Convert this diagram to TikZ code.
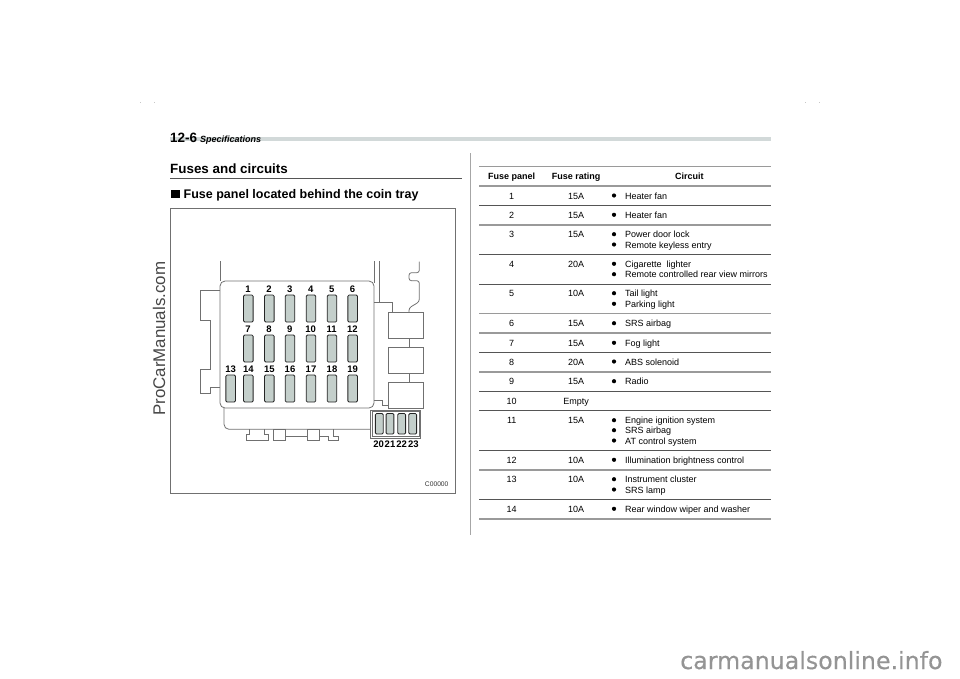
\documentclass[tikz,border=0pt]{standalone}
\usepackage{fontspec}
\setmainfont{Liberation Sans}
\newfontfamily\wmfont[FakeBold=0.35]{DejaVu Sans}
\definecolor{fusefill}{HTML}{C4CFCB}
\definecolor{barcol}{HTML}{D2D9D9}
\definecolor{rulecol}{HTML}{555555}
\definecolor{rulegrey}{HTML}{9A9A9A}
\definecolor{linecol}{HTML}{707070}
\newcommand{\fsz}[1]{\fontsize{#1}{#1}\selectfont}
\tikzset{
  outline/.style={draw=linecol,line width=0.8pt,line join=miter},
  fusebox/.style={draw=black!85,fill=fusefill,line width=0.85pt,rounded corners=1.2pt},
  fuselabel/.style={font=\fsz{9.5}\bfseries,inner sep=0pt,anchor=base},
  cell/.style={font=\fsz{9},inner sep=0pt,anchor=base,text=black},
  celll/.style={cell,anchor=base west},
  headcell/.style={cell,font=\fsz{9}\bfseries},
  tabrule/.style={draw=rulecol,line width=0.8pt},
  tabrulethick/.style={draw=rulegrey,line width=1.3pt},
  bulletdot/.style={fill=black},
}
\begin{document}
\begin{tikzpicture}[x=1pt,y=-1pt]
\useasboundingbox (0,0) rectangle (960,678);
% header
\fill[barcol] (170,136.8) rectangle (771,140.8);
\node[inner sep=0pt,anchor=base west,font=\fsz{13.5}\bfseries] (pg) at (170,142) {12-6};
\node[inner sep=0pt,anchor=base west,font=\fsz{9}\bfseries\itshape] (sec) at (200,142) {Specifications};
\node[inner sep=0pt,anchor=base west,font=\fsz{13.4}\bfseries] (t1) at (170,173) {Fuses and circuits};
\draw[draw=rulecol,line width=0.8pt] (170,178) -- (462,178);
\fill[black] (170.7,189.5) rectangle (180,198.3);
\node[inner sep=0pt,anchor=base west,font=\fsz{12.5}\bfseries] (t2) at (183.5,198) {Fuse panel located behind the coin tray};
% page furniture
\draw[draw=black!35,line width=1pt] (470.3,153) -- (470.3,535);
\node[rotate=90,inner sep=0pt,anchor=base west,font=\fsz{16.9},text=black!72] (wm1) at (165,416) {ProCarManuals.com};
\node[inner sep=0pt,anchor=base west,font=\wmfont\fsz{23.7},text=black!42] (wm2) at (680,669) {carmanualsonline.info};
\foreach \x in {140,154,805.7,819.3}{\fill[black!22] (\x-.5,101.8) rectangle (\x+.5,102.8);}
% figure frame
\draw[draw=linecol,line width=1pt] (170,208.3) rectangle (455,493);
\node[inner sep=0pt,anchor=base,font=\fsz{6.7},text=black!80] (code) at (436.7,486.3) {C00000};
% panel body
\draw[outline,rounded corners=5pt] (220,281) rectangle (374,408);
\draw[outline] (220,261) -- (220,281);
\draw[outline] (220,290.7) -- (200,290.7) -- (200,320) -- (210,320) -- (210,369.3) -- (200,369.3) -- (200,393.3) -- (210,393.3) -- (210,387.7) -- (220,387.7);
\draw[outline] (374,261) -- (374,283);
\draw[outline] (379.3,261) -- (379.3,302.7);
\draw[outline] (374,302.7) -- (392.7,302.7) -- (392.7,312);
\draw[outline] (374,400) -- (382,400) -- (382,405) -- (388,405);
\draw[outline,rounded corners=5pt] (224,408) -- (224,429.3) -- (370.7,429.3);
\draw[outline] (249.3,429.3) -- (249.3,434) -- (246,434) -- (246,440.7) -- (268.3,440.7) -- (268.3,434) -- (264,434) -- (264,429.3);
\draw[outline] (273.3,429.3) rectangle (285.7,440.7);
\draw[outline] (285.7,436.7) -- (307,436.7);
\draw[outline] (307,429.3) rectangle (319,440.7);
\draw[outline] (319,436.7) -- (328.3,436.7) -- (328.3,440.7) -- (338.3,440.7) -- (338.3,436.7) -- (333.3,436.7) -- (333.3,429.3);
% relays
\draw[outline] (388,312) rectangle (423,338.7);
\draw[outline] (388,347) rectangle (423,373.7);
\draw[outline] (388,382.3) rectangle (423,408.3);
\draw[outline] (409,338.7) -- (409,347);
\draw[outline] (409,373.7) -- (409,382.3);
\draw[outline,rounded corners=2.5pt] (419.3,261.7) -- (419.3,272.7) -- (409,272.7) -- (409,280.7) -- (419.3,280.7) -- (419.3,301.7) -- (409,308) -- (409,312);
% fuses
\foreach \n/\x in {1/248.3,2/269.3,3/290,4/311,5/332,6/352.7}{
  \draw[fusebox] (\x-4.8,295) rectangle (\x+4.8,322);
  \node[fuselabel] (lab\n) at (\x-0.3,292.5) {\n};
}
\foreach \n/\x in {7/248.3,8/269.3,9/290,10/311,11/332,12/352.7}{
  \draw[fusebox] (\x-4.8,335) rectangle (\x+4.8,362);
  \node[fuselabel] (lab\n) at (\x-0.3,332.3) {\n};
}
\foreach \n/\x in {13/230.7,14/248.3,15/269.3,16/290,17/311,18/332,19/352.7}{
  \draw[fusebox] (\x-4.8,375) rectangle (\x+4.8,402);
  \node[fuselabel] (lab\n) at (\x,372.3) {\n};
}
% small fuse block
\draw[outline,line width=0.7pt] (370.7,410) rectangle (420.7,438);
\draw[outline,line width=0.7pt] (372.3,411.7) rectangle (419.3,436.7);
\foreach \n/\x in {20/379.3,21/390,22/401.7,23/412.7}{
  \draw[fusebox] (\x-3.9,413.5) rectangle (\x+3.9,434);
}
\foreach \n/\x in {20/378.7,21/390,22/401.7,23/413.3}{
  \node[fuselabel] (lab\n) at (\x,447.5) {\n};
}
% table rules
\foreach \y in {205.3,254.3,284,352.7,391.3,410.7,450.3,499.3}{
  \draw[tabrule] (479.3,\y) -- (770.7,\y);
}
\foreach \y in {166.7,186,225,313.7,333,372,470,519}{
  \draw[tabrulethick] (479.3,\y) -- (770.7,\y);
}
% table header
\node[headcell] (h1) at (511.7,179.9) {Fuse panel};
\node[headcell] (h2) at (576,179.9) {Fuse rating};
\node[headcell] (h3) at (689.3,179.9) {Circuit};
% columns one and two
\foreach \n/\r/\y in {1/15A/196,2/15A/215.3,3/15A/234.7,4/20A/264.3,5/10A/293.7,6/15A/323.7,7/15A/343.3,8/20A/362,9/15A/381.7,10/Empty/401,11/15A/420.7,12/10A/460.3,13/10A/479.7,14/10A/509.3}{
  \node[cell] (fp\n) at (511.7,\y+3.2) {\n};
  \node[cell] (fr\n) at (576,\y+3.2) {\r};
}
% circuits
\foreach \t/\y in {Heater fan/196,Heater fan/215.3,Power door lock/234.7,Remote keyless entry/245,Cigarette~ lighter/264.3,Remote controlled rear view mirrors/274.7,Tail light/293.7,Parking light/304.3,SRS airbag/323.7,Fog light/343.3,ABS solenoid/362,Radio/381.7,Engine ignition system/420.7,SRS airbag/430.7,AT control system/441,Illumination brightness control/460.3,Instrument cluster/479.7,SRS lamp/490,Rear window wiper and washer/509.3}{
  \fill[bulletdot] (614,\y-0.5) circle (2.1);
  \node[celll] at (625,\y+3.2) {\t};
}
\end{tikzpicture}
\end{document}
